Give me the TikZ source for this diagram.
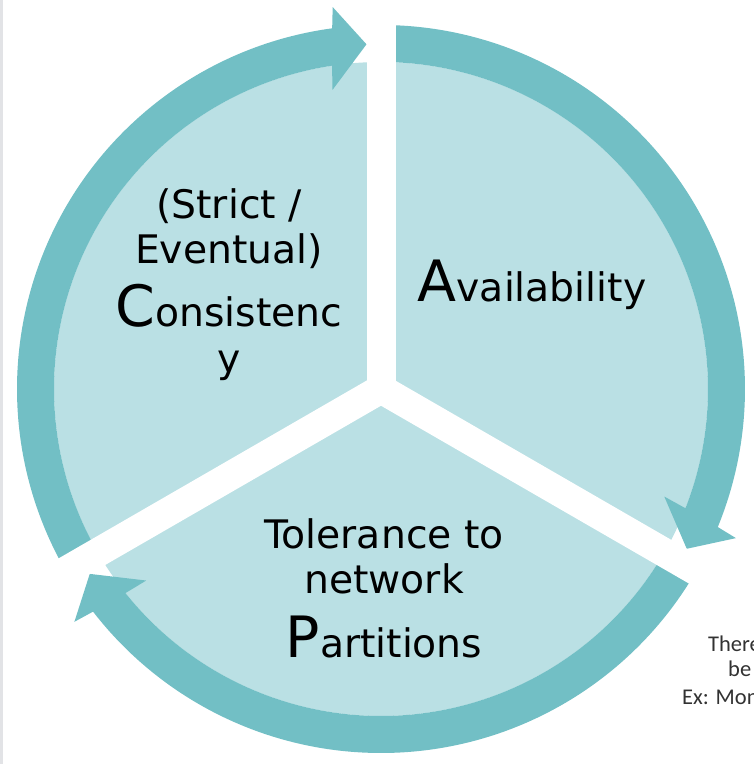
\documentclass[tikz,border=0pt]{standalone}
\usepackage{fontspec}
\setmainfont{DejaVu Sans}
\newfontfamily\notefont{Carlito}
\usetikzlibrary{positioning}
\definecolor{ringteal}{RGB}{114,191,197}
\definecolor{sectorpale}{RGB}{186,224,228}
\definecolor{pagegray}{RGB}{226,227,230}
\definecolor{notegray}{RGB}{50,50,50}
\newcommand{\capsize}{\fontsize{57}{60}\selectfont}

\begin{document}
\begin{tikzpicture}[x=1pt,y=1pt,
  every node/.style={align=center,inner sep=0pt,font=\fontsize{39.3}{45}\selectfont},
  gapband/.style={white,line width=29pt},
  ringarrow/.style={fill=ringteal,draw=none},
  notetext/.style={anchor=base west,text=notegray,font=\notefont\fontsize{22.5}{26}\selectfont}]
  \useasboundingbox (0,0) rectangle (754,764);
  \fill[pagegray] (0,0) rectangle (3.3,764);
  \begin{scope}[shift={(381,375)}]
    \fill[sectorpale] (0,0) circle[radius=327];
    % ring arrows: start angle / tip angle
    \foreach \s/\t in {90/-27.59,-30/-147.59,210/92.41}
      \fill[ringarrow] (\s:364) arc[start angle=\s,end angle=\t+5.3,radius=364]
        -- (\t+4.8:385) -- (\t:345) -- (\t+6.8:303) -- (\t+6.2:327)
        arc[start angle=\t+6.2,end angle=\s,radius=327] -- cycle;
    % white gaps between the sectors
    \foreach \a in {90,-30,210}
      \draw[gapband] (0,0) -- (\a:400);
  \end{scope}

  \node[anchor=north] (consistency) at (229,576)
    {(Strict /\\Eventual)\\[15pt]{\capsize C}onsistenc\\[1pt]y};
  \node[anchor=base] (availability) at (532,462) {{\capsize A}vailability};
  \node[anchor=north] (partitions) at (384,246)
    {Tolerance to\\network\\[19pt]{\capsize P}artitions};

  \node[notetext] (notetop) at (708,112) {There};
  \node[notetext] (notemid) at (728,87) {be};
  \node[notetext] (notelow) at (682,59) {Ex: Mon};
\end{tikzpicture}
\end{document}
